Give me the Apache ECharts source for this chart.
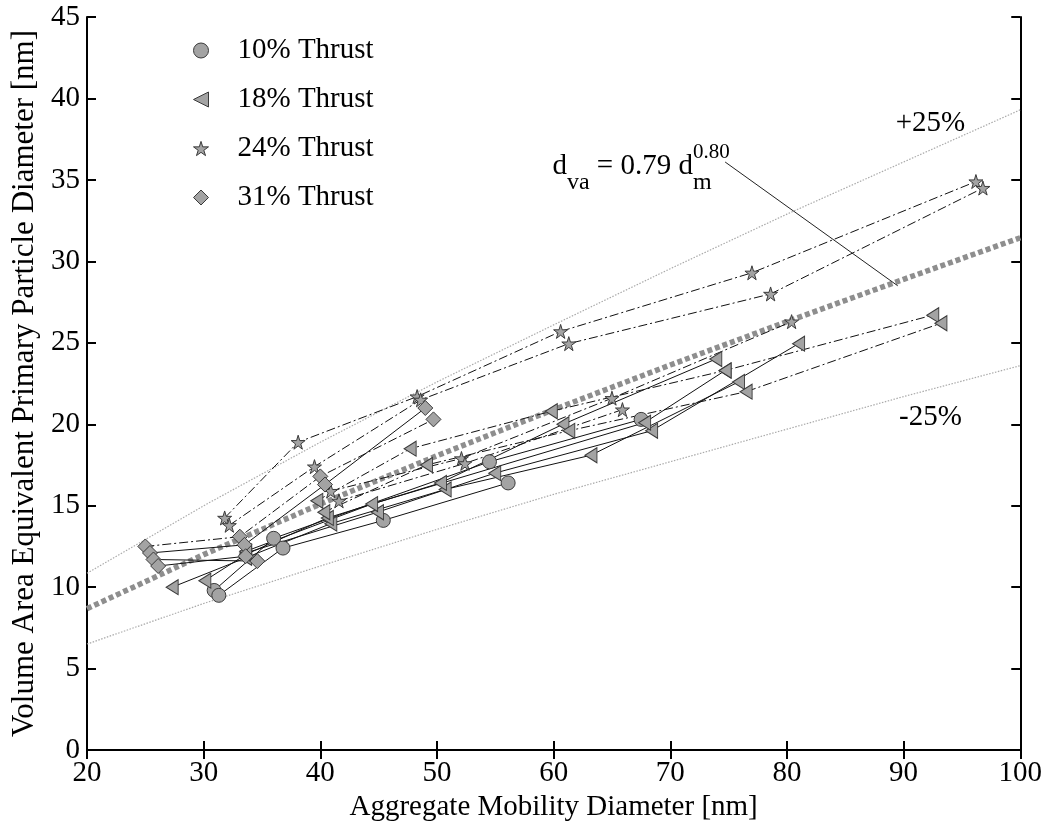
<!DOCTYPE html>
<html>
<head>
<meta charset="utf-8">
<script src="https://cdn.jsdelivr.net/npm/echarts@6/dist/echarts.min.js"></script>
<style>html,body{margin:0;padding:0;background:#fff}#c{width:1045px;height:827px}</style>
</head>
<body>
<div id="c"></div>
<script>
// ---------- data ----------
var xTicks = [20, 30, 40, 50, 60, 70, 80, 90, 100];
var yTicks = [0, 5, 10, 15, 20, 25, 30, 35, 40, 45];

// fit curve d_va = 0.79 d_m^0.80 and its +/-25% band, tabulated
var fitX   = [20, 30, 40, 50, 60, 70, 80, 90, 100];
var fitY   = [8.68, 12.0, 15.1, 18.07, 20.9, 23.64, 26.3, 28.9, 31.45];
var upperY = [10.85, 15.0, 18.9, 22.6, 26.1, 29.55, 32.9, 36.1, 39.3];
var lowerY = [6.51, 9.0, 11.3, 13.55, 15.7, 17.7, 19.7, 21.7, 23.6];

// 10% thrust (circles, solid)
var t10_a = [[30.9, 9.8], [36.0, 13.0], [54.5, 17.7], [67.5, 20.3]];
var t10_b = [[31.3, 9.5], [36.8, 12.4], [45.4, 14.1], [56.1, 16.4]];

// 18% thrust (left triangles)
var t18_a = [[27.3, 10.0], [33.6, 11.8], [40.9, 13.9], [50.7, 16.0], [63.2, 18.1], [75.85, 22.6]];
var t18_b = [[30.1, 10.4], [33.6, 12.0], [40.6, 14.25], [50.3, 16.4], [60.8, 20.0], [73.9, 24.0]];
var t18_c = [[33.6, 12.1], [44.9, 14.6], [54.95, 17.0], [68.4, 19.6], [81.0, 24.95]];
var t18_d = [[33.6, 12.2], [44.4, 15.1], [67.8, 20.1], [74.7, 23.3]];
var t18_e = [[39.7, 15.3], [47.7, 18.5], [59.8, 20.8], [74.7, 23.3], [92.5, 26.7]];
var t18_f = [[40.3, 14.6], [49.1, 17.5], [61.3, 19.6], [76.5, 22.0], [93.2, 26.2]];

// 24% thrust (stars, dash-dot)
var t24_a = [[31.8, 14.25], [38.1, 18.9], [48.3, 21.7], [60.6, 25.7], [77.0, 29.3], [96.2, 34.9]];
var t24_b = [[32.2, 13.8], [39.5, 17.4], [48.6, 21.5], [61.3, 24.95], [78.6, 28.0], [96.8, 34.5]];
var t24_c = [[40.9, 15.9], [52.1, 17.9], [65.0, 21.6], [80.4, 26.3]];
var t24_d = [[41.6, 15.3], [52.4, 17.6], [65.9, 20.9]];

// 31% thrust (diamonds)
var t31_a = [[25.0, 12.5], [33.1, 13.1], [40.0, 16.8], [49.7, 20.3]];
var t31_b = [[25.4, 12.1], [33.5, 12.6], [40.4, 16.3], [49.0, 21.0]];
var t31_c = [[25.7, 11.7], [34.6, 11.6]];
var t31_d = [[26.1, 11.3], [33.6, 11.9]];

var legendNames = ['10% Thrust', '18% Thrust', '24% Thrust', '31% Thrust'];

// annotation anchor points (data coords)
var eqLine = [[74.7, 36.1], [89.5, 28.5]];

// ---------- styles ----------
var FONT = '"Liberation Serif", "DejaVu Serif", serif';
var FILL = '#a3a3a3', EDGE = '#3a3a3a';
var SYM = {
  circle: 'circle',
  tri: 'path://M0,50 L100,0 L100,100 Z',
  star: 'path://M50,0 L61,35 L98,35 L68,57 L79,91 L50,70 L21,91 L32,57 L2,35 L39,35 Z',
  diamond: 'diamond'
};
var SIZE = { circle: 14, tri: [12, 15], star: 14, diamond: 15 };
var DASHDOT = [9, 3, 2, 3];

function dataSeries(name, data, sym, dash) {
  return {
    type: 'line', name: name, data: data,
    symbol: SYM[sym], symbolSize: SIZE[sym], showAllSymbol: true,
    lineStyle: { color: '#111', width: 1, type: dash ? DASHDOT : 'solid' },
    itemStyle: { color: FILL, borderColor: EDGE, borderWidth: 1 },
    z: 5, silent: true
  };
}
function zipXY(xs, ys) { return xs.map(function (x, i) { return [x, ys[i]]; }); }

var series = [
  { type: 'line', name: 'upper', data: zipXY(fitX, upperY), symbol: 'none', silent: true,
    lineStyle: { color: '#aaa', width: 1.2, type: [1.5, 1.5] }, z: 2 },
  { type: 'line', name: 'lower', data: zipXY(fitX, lowerY), symbol: 'none', silent: true,
    lineStyle: { color: '#aaa', width: 1.2, type: [1.5, 1.5] }, z: 2 },
  { type: 'line', name: 'fit', data: zipXY(fitX, fitY), symbol: 'none', silent: true,
    lineStyle: { color: '#8e8e8e', width: 5.5, type: [5, 3] }, z: 3,
    markLine: { silent: true, symbol: 'none', animation: false,
      lineStyle: { color: '#222', width: 1, type: 'solid' }, label: { show: false },
      data: [[{ coord: eqLine[0] }, { coord: eqLine[1] }]] } },

  dataSeries(legendNames[0], t10_a, 'circle', false),
  dataSeries(legendNames[0], t10_b, 'circle', false),

  dataSeries(legendNames[1], t18_a, 'tri', false),
  dataSeries(legendNames[1], t18_b, 'tri', false),
  dataSeries(legendNames[1], t18_c, 'tri', false),
  dataSeries(legendNames[1], t18_d, 'tri', false),
  dataSeries(legendNames[1], t18_e, 'tri', true),
  dataSeries(legendNames[1], t18_f, 'tri', true),

  dataSeries(legendNames[2], t24_a, 'star', true),
  dataSeries(legendNames[2], t24_b, 'star', true),
  dataSeries(legendNames[2], t24_c, 'star', true),
  dataSeries(legendNames[2], t24_d, 'star', true),

  dataSeries(legendNames[3], t31_a, 'diamond', true),
  dataSeries(legendNames[3], t31_b, 'diamond', false),
  dataSeries(legendNames[3], t31_c, 'diamond', false),
  dataSeries(legendNames[3], t31_d, 'diamond', false)
];

var axisCommon = {
  type: 'value',
  axisLine: { show: true, lineStyle: { color: '#000', width: 2 } },
  axisTick: { show: true, inside: true, length: 9, lineStyle: { color: '#000', width: 2 } },
  splitLine: { show: false }
};

var chart = echarts.init(document.getElementById('c'), null, { renderer: 'canvas' });
chart.setOption({
  animation: false,
  backgroundColor: '#fff',
  grid: { left: 87, right: 20, top: 17, bottom: 73, containLabel: false },
  legend: {
    show: true, orient: 'vertical', left: 188, top: 30,
    itemWidth: 15, itemHeight: 15, itemGap: 18,
    data: [
      { name: legendNames[0], icon: SYM.circle },
      { name: legendNames[1], icon: SYM.tri },
      { name: legendNames[2], icon: SYM.star },
      { name: legendNames[3], icon: SYM.diamond }
    ],
    itemStyle: { color: FILL, borderColor: EDGE, borderWidth: 1 },
    textStyle: { fontFamily: FONT, fontSize: 29, color: '#000', padding: [0, 0, 0, 24], lineHeight: 31 },
    selectedMode: false
  },
  xAxis: [
    Object.assign({}, axisCommon, {
      min: xTicks[0], max: xTicks[xTicks.length - 1], interval: 10,
      name: 'Aggregate Mobility Diameter [nm]', nameLocation: 'middle', nameGap: 38,
      nameTextStyle: { fontFamily: FONT, fontSize: 29, color: '#000' },
      axisLabel: { fontFamily: FONT, fontSize: 29, color: '#000', margin: 9 }
    }),
    Object.assign({}, axisCommon, {
      position: 'top', min: xTicks[0], max: xTicks[xTicks.length - 1], interval: 10,
      axisLabel: { show: false }
    })
  ],
  yAxis: [
    Object.assign({}, axisCommon, {
      min: yTicks[0], max: yTicks[yTicks.length - 1], interval: 5,
      name: 'Volume Area Equivalent Primary Particle Diameter [nm]', nameLocation: 'middle', nameGap: 46,
      nameTextStyle: { fontFamily: FONT, fontSize: 31, color: '#000' },
      axisLabel: { fontFamily: FONT, fontSize: 29, color: '#000', margin: 7 }
    }),
    Object.assign({}, axisCommon, {
      position: 'right', min: yTicks[0], max: yTicks[yTicks.length - 1], interval: 5,
      axisLabel: { show: false }
    })
  ],
  series: series
});

// text annotations placed at data coordinates
function px(pt) { return chart.convertToPixel({ gridIndex: 0 }, pt); }
var pPlus = px([92.3, 38.5]), pMinus = px([92.3, 20.4]), pEq = px([59.9, 35.8]);

// measure equation pieces so that sub- and superscript of d_m stack
var ctx = document.createElement('canvas').getContext('2d');
function w(text, size) { ctx.font = size + 'px ' + FONT; return ctx.measureText(text).width; }
var MAIN = 29, SUBS = 24, SUPS = 21;
var xAfterD = pEq[0] + w('d', MAIN);
var xAfterVa = xAfterD + w('va', SUBS);
var xAfterEq = xAfterVa + w(' = 0.79 d', MAIN);

function txt(s, x, y, size, align) {
  return { type: 'text', x: x, y: y, silent: true,
    style: { text: s, font: size + 'px ' + FONT, fill: '#000', align: align || 'left', verticalAlign: 'middle' } };
}

chart.setOption({
  graphic: [
    txt('+25%', pPlus[0], pPlus[1], 29, 'center'),
    txt('-25%', pMinus[0], pMinus[1], 29, 'center'),
    txt('d', pEq[0], pEq[1], MAIN),
    txt('va', xAfterD, pEq[1] + 16, SUBS),
    txt(' = 0.79 d', xAfterVa, pEq[1], MAIN),
    txt('m', xAfterEq, pEq[1] + 16, SUBS),
    txt('0.80', xAfterEq, pEq[1] - 14, SUPS)
  ]
});
</script>
</body>
</html>
